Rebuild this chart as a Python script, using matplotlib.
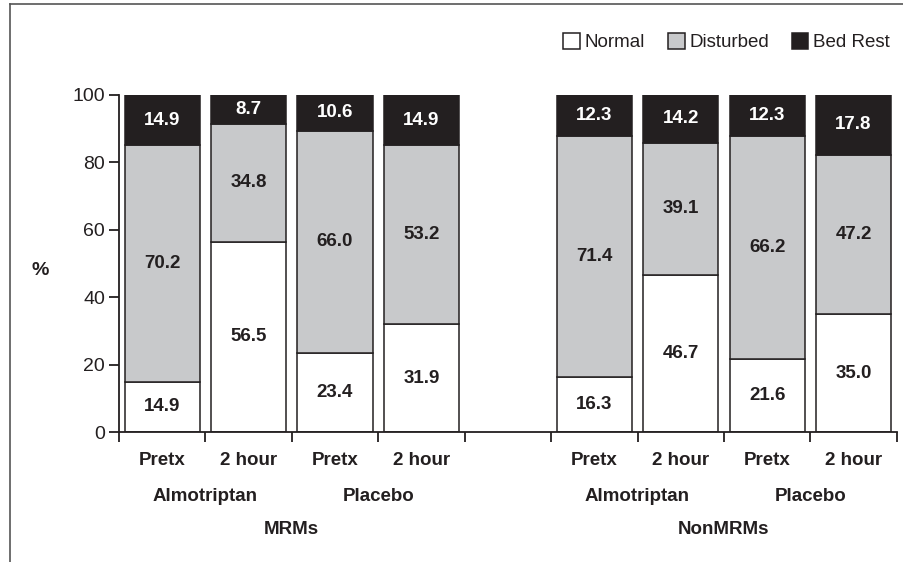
#!/usr/bin/env python3
"""Stacked bars: headache status before and 2 hours after treatment, MRMs vs NonMRMs."""

import numpy as np
import matplotlib

matplotlib.use("Agg")
import matplotlib.pyplot as plt
from matplotlib.lines import Line2D
from matplotlib.patches import Patch

plt.rcParams["font.family"] = ["Liberation Sans", "DejaVu Sans"]

# data
timepoints = ["Pretx", "2 hour", "Pretx", "2 hour", "Pretx", "2 hour", "Pretx", "2 hour"]
treatments = ["Almotriptan", "Placebo", "Almotriptan", "Placebo"]
populations = ["MRMs", "NonMRMs"]
normal = [14.9, 56.5, 23.4, 31.9, 16.3, 46.7, 21.6, 35.0]
disturbed = [70.2, 34.8, 66.0, 53.2, 71.4, 39.1, 66.2, 47.2]
bed_rest = [14.9, 8.7, 10.6, 14.9, 12.3, 14.2, 12.3, 17.8]
series_names = ["Normal", "Disturbed", "Bed Rest"]

INK = "#231f20"
GREY = "#c8c9cb"
fills = ["white", GREY, INK]
text_colors = [INK, INK, "white"]

fig = plt.figure(figsize=(9.04, 5.62), dpi=100)
ax = fig.add_axes([0.1316, 0.2313, 0.8604, 0.5997])

n = len(normal)
idx = np.arange(n)
x = idx + (idx >= n // 2)  # leave one empty slot between the two populations
width = 0.87

bottom = np.zeros(n)
for vals, fc, tc in zip([normal, disturbed, bed_rest], fills, text_colors):
    vals = np.asarray(vals)
    ax.bar(x, vals, width=width, bottom=bottom, color=fc,
           edgecolor=INK, linewidth=1.1, zorder=2)
    for xi, b, v in zip(x, bottom, vals):
        yc = (b + min(b + v, 100)) / 2
        ax.text(xi, yc, f"{v:.1f}", ha="center", va="center", fontsize=13.5,
                fontweight="bold", color=tc, zorder=3)
    bottom = bottom + vals

ax.set_xlim(-0.5, x[-1] + 0.5)
ax.set_ylim(0, 100)
ax.set_yticks(np.arange(0, 101, 20))
ax.set_xticks(np.arange(-0.5, x[-1] + 1, 1.0))
ax.set_xticklabels([])
ax.tick_params(axis="both", direction="out", length=7, width=1.3,
               color=INK, labelcolor=INK, labelsize=14)
ax.tick_params(axis="y", pad=3)
for side in ["top", "right"]:
    ax.spines[side].set_visible(False)
for side in ["left", "bottom"]:
    ax.spines[side].set_color(INK)
    ax.spines[side].set_linewidth(1.3)

trans = ax.get_xaxis_transform()
for xi, lab in zip(x, timepoints):
    ax.text(xi, -0.085, lab, transform=trans, ha="center", va="center",
            fontsize=13.5, fontweight="bold", color=INK)
for k, lab in enumerate(treatments):
    xc = (x[2 * k] + x[2 * k + 1]) / 2
    ax.text(xc, -0.192, lab, transform=trans, ha="center", va="center",
            fontsize=13.5, fontweight="bold", color=INK)
for k, lab in enumerate(populations):
    xc = (x[4 * k + 1] + x[4 * k + 2]) / 2
    ax.text(xc, -0.29, lab, transform=trans, ha="center", va="center",
            fontsize=13.5, fontweight="bold", color=INK)

ax.text(-0.1015, 0.48, "%", transform=ax.transAxes, ha="center", va="center",
        fontsize=14, fontweight="bold", color=INK)

handles = [Patch(facecolor=fc, edgecolor=INK, linewidth=1.1) for fc in fills]
fig.legend(handles, series_names, loc="upper right", bbox_to_anchor=(1.003, 0.971),
           ncol=3, frameon=False, fontsize=13.5, handlelength=0.9, handleheight=0.9,
           handletextpad=0.25, columnspacing=1.2, labelcolor=INK)

# partial frame around the figure
frame = "#555555"
fig.add_artist(Line2D([10 / 904, 1.0], [1 - 4 / 562, 1 - 4 / 562],
                      transform=fig.transFigure, color=frame, linewidth=1.2))
fig.add_artist(Line2D([10 / 904, 10 / 904], [0.0, 1 - 4 / 562],
                      transform=fig.transFigure, color=frame, linewidth=1.2))

fig.savefig("out.png", dpi=100)
